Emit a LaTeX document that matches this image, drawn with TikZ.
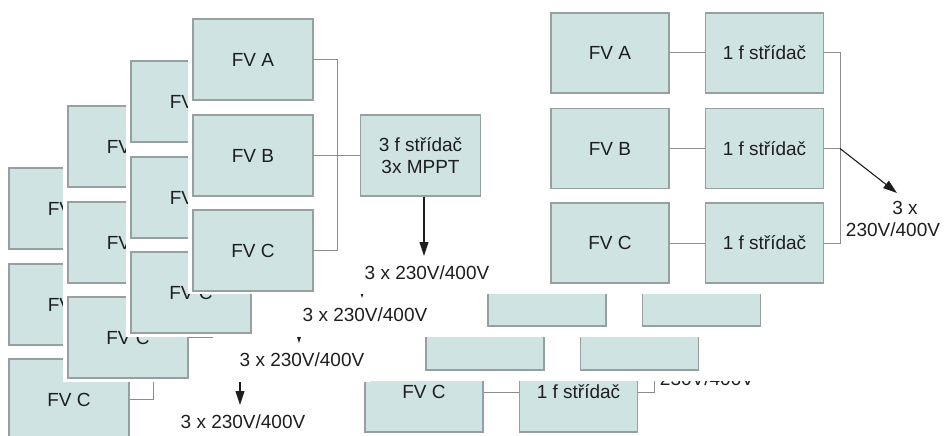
\documentclass[tikz,border=0pt]{standalone}
\usepackage{fontspec}
\setmainfont{Liberation Sans}
\usetikzlibrary{arrows.meta,calc}
\definecolor{boxfill}{RGB}{208,227,227}
\definecolor{boxline}{RGB}{150,160,160}
\definecolor{wire}{RGB}{140,140,140}
\definecolor{ink}{RGB}{30,30,30}
\tikzset{
  pv/.style={draw=boxline, fill=boxfill, line width=1.2pt, minimum width=120pt,
    minimum height=81pt, inner sep=0pt, font=\fontsize{19}{22}\selectfont, text=ink, align=center},
  pvr/.style={pv, minimum width=118pt, minimum height=80pt},
  wireline/.style={draw=wire, line width=1pt},
  outarrow/.style={draw=ink, line width=1.1pt, -{Triangle[width=9pt,length=14pt]}},
  volt/.style={font=\fontsize{19}{22}\selectfont, text=ink, inner sep=0pt},
  backdrop/.style={fill=white, draw=none},
}
% left diagram: FV strings, bus, output arrow and label
\newcommand\pvleft[1]{%
  \node[pv] (#1A) at (253,59.5) {FV A};
  \node[pv] (#1B) at (253,155.5) {FV B};
  \node[pv] (#1C) at (253,250.5) {FV C};
  \coordinate (#1t) at (337,59.5);
  \coordinate (#1m) at (337,155.5);
  \coordinate (#1b) at (337,250.5);
  \draw[wireline] (#1A.east) -- (#1t) -- (#1b) -- (#1C.east);
  \draw[wireline] (#1B.east) -- (#1m);
  \node[volt] (#1v) at (427,273) {3 x 230V/400V};
  \coordinate (#1e) at (424,256);
}
% right diagram
\newcommand\pvright[1]{%
  \node[pvr] (#1A) at (610,53) {FV A};
  \node[pvr] (#1iA) at (764.5,53) {1 f střídač};
  \node[pvr] (#1B) at (610,148.5) {FV B};
  \node[pvr] (#1iB) at (764.5,148.5) {1 f střídač};
  \node[pvr] (#1C) at (610,243) {FV C};
  \node[pvr] (#1iC) at (764.5,243) {1 f střídač};
  \draw[wireline] (#1A.east) -- (#1iA.west);
  \draw[wireline] (#1B.east) -- (#1iB.west);
  \draw[wireline] (#1C.east) -- (#1iC.west);
  \coordinate (#1t) at (840,53);
  \coordinate (#1m) at (840,148.5);
  \coordinate (#1b) at (840,243);
  \draw[wireline] (#1iA.east) -- (#1t) -- (#1b) -- (#1iC.east);
  \draw[wireline] (#1iB.east) -- (#1m);
  \coordinate (#1e) at (897,193);
  \draw[outarrow] (#1m) -- (#1e);
  \node[volt] (#1x) at (905,208) {3 x};
  \node[volt] (#1y) at (893,230) {230V/400V};
}
\begin{document}
\begin{tikzpicture}[x=1pt,y=-1pt]
\clip (0,0) rectangle (946,436);
\fill[white] (0,0) rectangle (946,436);
% ---- right stack, back to front ----
\begin{scope}[shift={(-186,149)}]\pvright{rd}\end{scope}
\fill[backdrop] (360,0) rectangle (946,381);
\begin{scope}[shift={(-125,87)}]\pvright{rc}\end{scope}
\fill[backdrop] (420,0) rectangle (946,337);
\begin{scope}[shift={(-63,43)}]\pvright{rb}\end{scope}
\fill[backdrop] (483,0) rectangle (946,294);
\pvright{ra}
% ---- left stack, back to front ----
\begin{scope}[shift={(-184,149)}]
  \pvleft{ld}
  \coordinate (lds) at (424,196);
  \draw[outarrow] (lds) -- (lde);
\end{scope}
\fill[backdrop] (63,101) rectangle (370,382);
\begin{scope}[shift={(-125,87)}]
  \pvleft{lc}
  \coordinate (lcs) at (424,196);
  \draw[outarrow] (lcs) -- (lce);
\end{scope}
\fill[backdrop] (126,56) rectangle (433,337);
\begin{scope}[shift={(-62,42)}]
  \pvleft{lb}
  \coordinate (lbs) at (424,196);
  \draw[outarrow] (lbs) -- (lbe);
\end{scope}
\fill[backdrop] (188,14) rectangle (495,294);
\pvleft{la}
\node[pv] (laI) at (420.5,155.5) {3 f střídač\\3x MPPT};
\draw[wireline] (lam) -- (laI.west);
\draw[outarrow] ($(laI.south)+(3.5,0)$) -- (lae);
\end{tikzpicture}
\end{document}
